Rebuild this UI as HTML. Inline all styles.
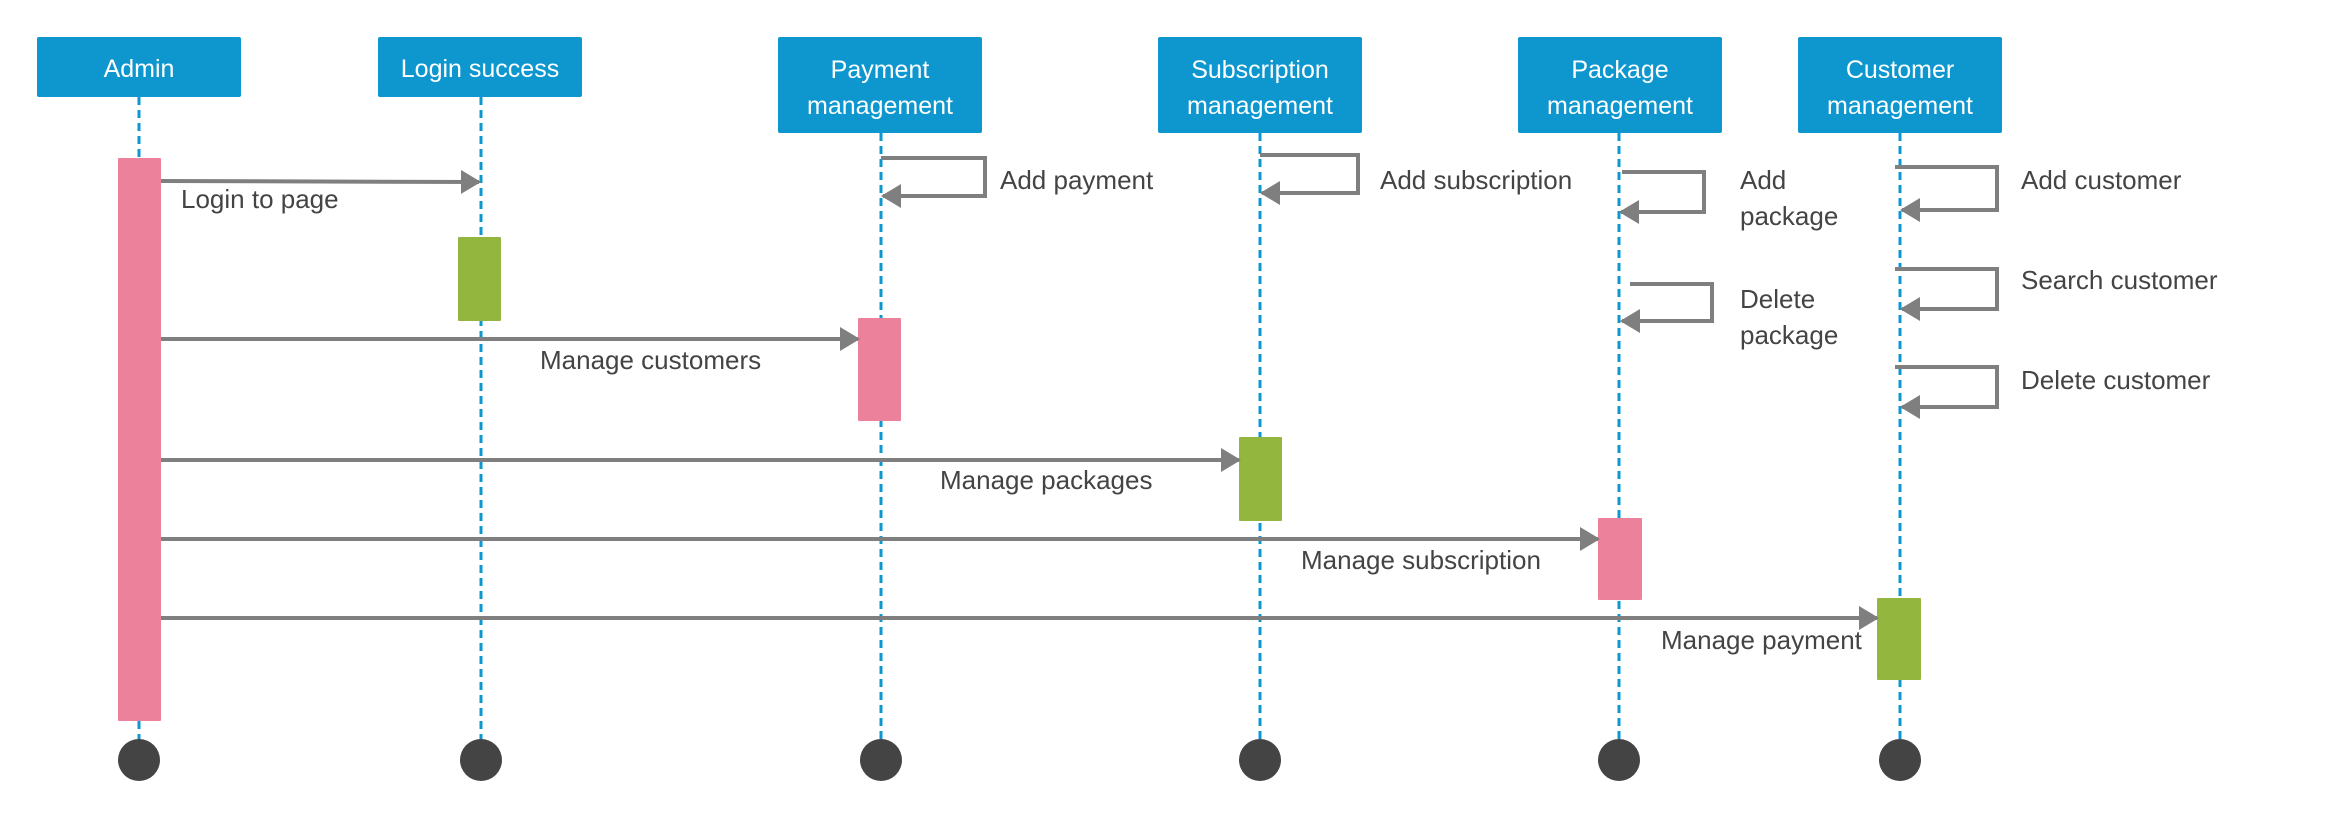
<!DOCTYPE html>
<html><head><meta charset="utf-8"><style>
html,body{margin:0;padding:0;background:#fff;}
svg{display:block;}
text{font-family:"Liberation Sans",sans-serif;}
</style></head><body>
<svg width="2340" height="820" viewBox="0 0 2340 820" xmlns="http://www.w3.org/2000/svg">
<defs>
<marker id="ah" markerWidth="5" markerHeight="6" refX="4.5" refY="3" orient="auto" markerUnits="strokeWidth">
<path d="M0,0 L5,3 L0,6 z" fill="#7f7f7f"/>
</marker>
</defs>
<g stroke="#0e97cf" stroke-width="3" stroke-dasharray="8,5">
<line x1="139" y1="97" x2="139" y2="745"/>
<line x1="481" y1="97" x2="481" y2="745"/>
<line x1="881" y1="133" x2="881" y2="745"/>
<line x1="1260" y1="133" x2="1260" y2="745"/>
<line x1="1619" y1="133" x2="1619" y2="745"/>
<line x1="1900" y1="133" x2="1900" y2="745"/>
</g>
<g fill="#0e97cf">
<rect x="37" y="37" width="204" height="60" rx="2"/>
<rect x="378" y="37" width="204" height="60" rx="2"/>
<rect x="778" y="37" width="204" height="96" rx="2"/>
<rect x="1158" y="37" width="204" height="96" rx="2"/>
<rect x="1518" y="37" width="204" height="96" rx="2"/>
<rect x="1798" y="37" width="204" height="96" rx="2"/>
</g>
<g fill="#fff" font-size="25" text-anchor="middle">
<text x="139" y="77">Admin</text>
<text x="480" y="77">Login success</text>
<text x="880" y="78">Payment</text><text x="880" y="114">management</text>
<text x="1260" y="78">Subscription</text><text x="1260" y="114">management</text>
<text x="1620" y="78">Package</text><text x="1620" y="114">management</text>
<text x="1900" y="78">Customer</text><text x="1900" y="114">management</text>
</g>
<rect x="118" y="158" width="43" height="563" fill="#ec819b" rx="1"/>
<rect x="458" y="237" width="43" height="84" fill="#93b73e" rx="1"/>
<rect x="858" y="318" width="43" height="103" fill="#ec819b" rx="1"/>
<rect x="1239" y="437" width="43" height="84" fill="#93b73e" rx="1"/>
<rect x="1598" y="518" width="44" height="82" fill="#ec819b" rx="1"/>
<rect x="1877" y="598" width="44" height="82" fill="#93b73e" rx="1"/>
<g fill="#444">
<circle cx="139" cy="760" r="21"/><circle cx="481" cy="760" r="21"/>
<circle cx="881" cy="760" r="21"/><circle cx="1260" cy="760" r="21"/>
<circle cx="1619" cy="760" r="21"/><circle cx="1900" cy="760" r="21"/>
</g>
<g stroke="#7f7f7f" stroke-width="4" fill="none" marker-end="url(#ah)">
<path d="M161,181 L479,182"/>
<path d="M161,339 L858,339"/>
<path d="M161,460 L1239,460"/>
<path d="M161,539 L1598,539"/>
<path d="M161,618 L1877,618"/>
<path d="M881,158 L985,158 L985,196 L883,196"/>
<path d="M1260,155 L1358,155 L1358,193 L1262,193"/>
<path d="M1622,172 L1704,172 L1704,212 L1621,212"/>
<path d="M1630,284 L1712,284 L1712,321 L1622,321"/>
<path d="M1895,167 L1997,167 L1997,210 L1902,210"/>
<path d="M1895,269 L1997,269 L1997,309 L1902,309"/>
<path d="M1895,367 L1997,367 L1997,407 L1902,407"/>
</g>
<g fill="#444" font-size="26">
<text x="181" y="208">Login to page</text>
<text x="540" y="369">Manage customers</text>
<text x="940" y="489">Manage packages</text>
<text x="1301" y="569">Manage subscription</text>
<text x="1661" y="649">Manage payment</text>
<text x="1000" y="189">Add payment</text>
<text x="1380" y="189">Add subscription</text>
<text x="1740" y="189">Add</text><text x="1740" y="225">package</text>
<text x="1740" y="308">Delete</text><text x="1740" y="344">package</text>
<text x="2021" y="189">Add customer</text>
<text x="2021" y="289">Search customer</text>
<text x="2021" y="389">Delete customer</text>
</g>
</svg>
</body></html>
